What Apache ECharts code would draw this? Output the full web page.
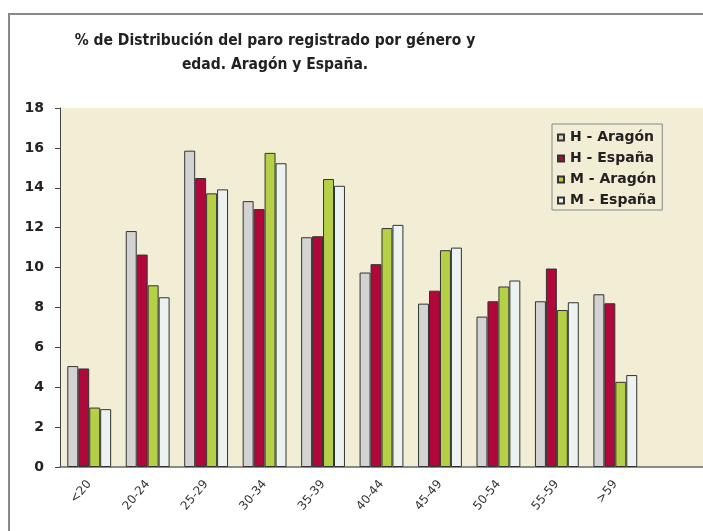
<!DOCTYPE html>
<html>
<head>
<meta charset="utf-8">
<script src="https://cdn.jsdelivr.net/npm/echarts@6/dist/echarts.min.js"></script>
<style>
  html, body { margin: 0; padding: 0; background: #fff; }
  #chart { width: 703px; height: 531px; }
</style>
</head>
<body>
<div id="chart"></div>
<script>
var chart = echarts.init(document.getElementById('chart'));

// age groups (last slot is empty in the original chart)
var categories = ['<20', '20-24', '25-29', '30-34', '35-39', '40-44', '45-49', '50-54', '55-59', '>59', ''];
var seriesNames = ['H - Aragón', 'H - España', 'M - Aragón', 'M - España'];
var hAragon = [5.06, 11.83, 15.86, 13.33, 11.52, 9.75, 8.19, 7.54, 8.31, 8.66];
var hEspana = [4.94, 10.65, 14.49, 12.93, 11.57, 10.17, 8.84, 8.31, 9.95, 8.21];
var mAragon = [2.98, 9.11, 13.72, 15.75, 14.44, 11.98, 10.87, 9.05, 7.87, 4.27];
var mEspana = [2.90, 8.51, 13.92, 15.23, 14.10, 12.14, 11.00, 9.35, 8.26, 4.61];
var yTicks = [0, 2, 4, 6, 8, 10, 12, 14, 16, 18];

var colors = ['#d3d3d4', '#b0083a', '#b5d046', '#ebf2f0'];
var allData = [hAragon, hEspana, mAragon, mEspana];

var series = [];
for (var i = 0; i < seriesNames.length; i++) {
    series.push({
        name: seriesNames[i],
        type: 'bar',
        data: allData[i],
        barGap: '0%',
        barCategoryGap: '25%',
        itemStyle: {
            color: colors[i],
            borderColor: '#333',
            borderWidth: 1
        }
    });
}

var option = {
    animation: false,
    backgroundColor: '#fff',
    title: {
        text: '% de Distribución del paro registrado por género y\nedad. Aragón y España.',
        left: 270,
        top: 24,
        textAlign: 'center',
        textStyle: {
            fontFamily: 'DejaVu Sans Condensed',
            fontWeight: 'bold',
            fontSize: 15.5,
            lineHeight: 24,
            color: '#222'
        }
    },
    legend: {
        orient: 'vertical',
        left: 552,
        top: 124,
        width: 111,
        padding: [5, 6, 1, 5],
        itemGap: 4,
        itemWidth: 6,
        itemHeight: 6,
        icon: 'rect',
        borderColor: '#888',
        borderWidth: 1,
        backgroundColor: '#f2edd5',
        textStyle: {
            fontFamily: 'DejaVu Sans',
            fontWeight: 'bold',
            fontSize: 14,
            lineHeight: 17,
            color: '#222',
            padding: [0, 0, 0, 1]
        },
        data: seriesNames
    },
    grid: {
        left: 60,
        top: 108,
        right: 0,
        bottom: 64,
        show: true,
        backgroundColor: '#f2edd5',
        borderWidth: 0
    },
    xAxis: {
        type: 'category',
        data: categories,
        axisLine: { lineStyle: { color: '#666', width: 1.5 } },
        axisTick: { show: false },
        axisLabel: {
            rotate: 50,
            fontFamily: 'DejaVu Sans',
            fontSize: 12,
            color: '#333',
            margin: 15
        }
    },
    yAxis: {
        type: 'value',
        min: yTicks[0],
        max: yTicks[yTicks.length - 1],
        interval: 2,
        axisLine: { show: true, lineStyle: { color: '#444' } },
        axisTick: { show: true, inside: false, length: 5, lineStyle: { color: '#444' } },
        splitLine: { show: false },
        axisLabel: {
            fontFamily: 'DejaVu Sans',
            fontWeight: 'bold',
            fontSize: 14,
            color: '#222',
            margin: 16
        }
    },
    graphic: [{
        type: 'rect',
        shape: { x: 9, y: 14, width: 720, height: 540 },
        style: { fill: 'none', stroke: '#888', lineWidth: 2 },
        silent: true,
        z: -1
    }],
    series: series
};

chart.setOption(option);
</script>
</body>
</html>
